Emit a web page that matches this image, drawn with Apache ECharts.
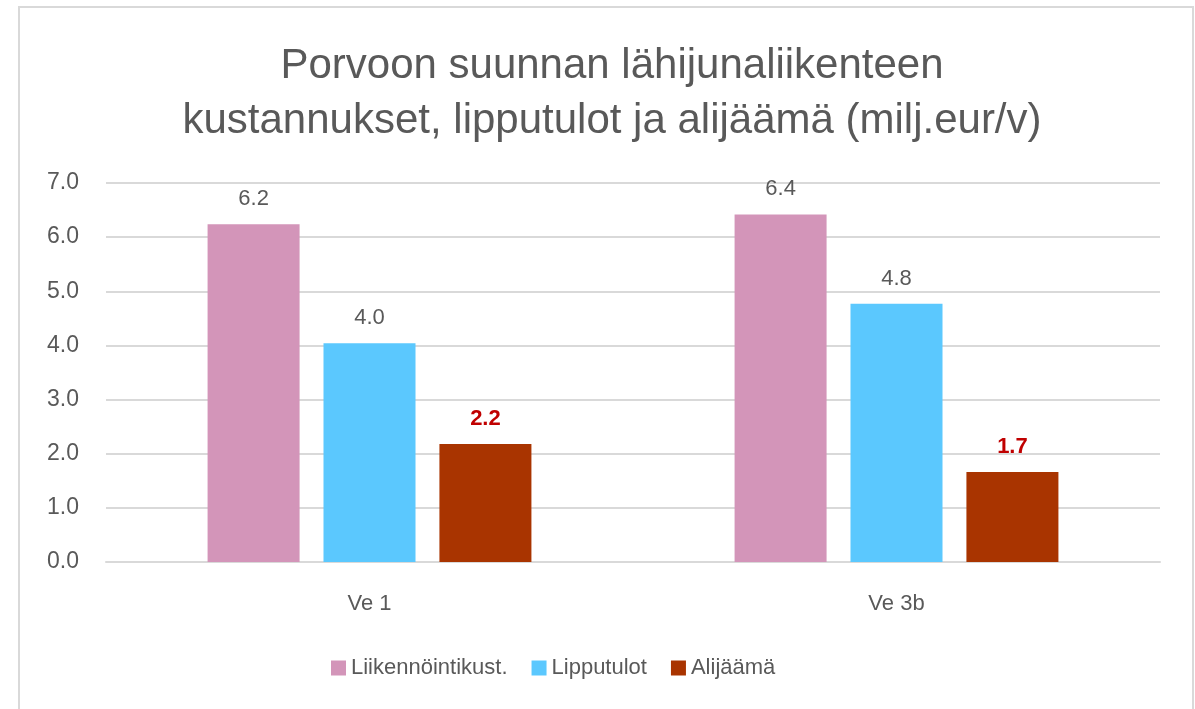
<!DOCTYPE html>
<html><head><meta charset="utf-8">
<script src="https://cdn.jsdelivr.net/npm/echarts@6/dist/echarts.min.js"></script>
<style>html,body{margin:0;padding:0;background:#fff}#c{width:1195px;height:709px}</style>
</head><body><div id="c"></div>
<script>
const categories = ['Ve 1', 'Ve 3b'];
const seriesNames = ['Liikennöintikust.', 'Lipputulot', 'Alijäämä'];
const kustannukset = [6.24, 6.42];
const lipputulot = [4.04, 4.77];
const alijaama = [2.18, 1.66];
const yTicks = [0, 1, 2, 3, 4, 5, 6, 7];

const FONT = 'Liberation Sans';
const GREY = '#595959';
const chart = echarts.init(document.getElementById('c'));
function bar(name, data, color, bold) {
  return {
    name, type: 'bar', data,
    barWidth: 92, barGap: '26%',
    itemStyle: { color },
    label: {
      show: true, position: 'top', distance: 14,
      formatter: p => p.value.toFixed(1),
      fontFamily: FONT, fontSize: 22,
      color: bold ? '#c00000' : GREY,
      fontWeight: bold ? 'bold' : 'normal'
    }
  };
}
chart.setOption({
  animation: false,
  graphic: [{ type: 'rect', shape: { x: 19, y: 7, width: 1174, height: 710 }, style: { fill: 'none', stroke: '#d9d9d9', lineWidth: 2 }, silent: true }],
  title: {
    text: 'Porvoon suunnan lähijunaliikenteen\nkustannukset, lipputulot ja alijäämä (milj.eur/v)',
    left: 607, top: 34, textAlign: 'center',
    textStyle: { fontFamily: FONT, fontWeight: 'normal', fontSize: 42, lineHeight: 55, color: GREY }
  },
  legend: {
    data: seriesNames, top: 652, left: 326, itemWidth: 15, itemHeight: 15, itemGap: 24,
    icon: 'rect', textStyle: { fontFamily: FONT, fontSize: 22, color: GREY }
  },
  grid: { left: 106, right: 35, top: 183, bottom: 147 },
  xAxis: {
    type: 'category', data: categories,
    axisLine: { lineStyle: { color: '#d9d9d9', width: 2 } }, axisTick: { show: false },
    axisLabel: { fontFamily: FONT, fontSize: 22, color: GREY, margin: 31 }
  },
  yAxis: {
    type: 'value', min: yTicks[0], max: yTicks[yTicks.length - 1], interval: 1,
    axisLabel: { fontFamily: FONT, fontSize: 23, color: GREY, margin: 27, formatter: v => v.toFixed(1) },
    splitLine: { lineStyle: { color: '#d9d9d9', width: 2 } },
    axisLine: { show: false }, axisTick: { show: false }
  },
  series: [
    bar(seriesNames[0], kustannukset, '#d395b9', false),
    bar(seriesNames[1], lipputulot, '#5bc8fe', false),
    bar(seriesNames[2], alijaama, '#a93400', true)
  ]
});
</script></body></html>
